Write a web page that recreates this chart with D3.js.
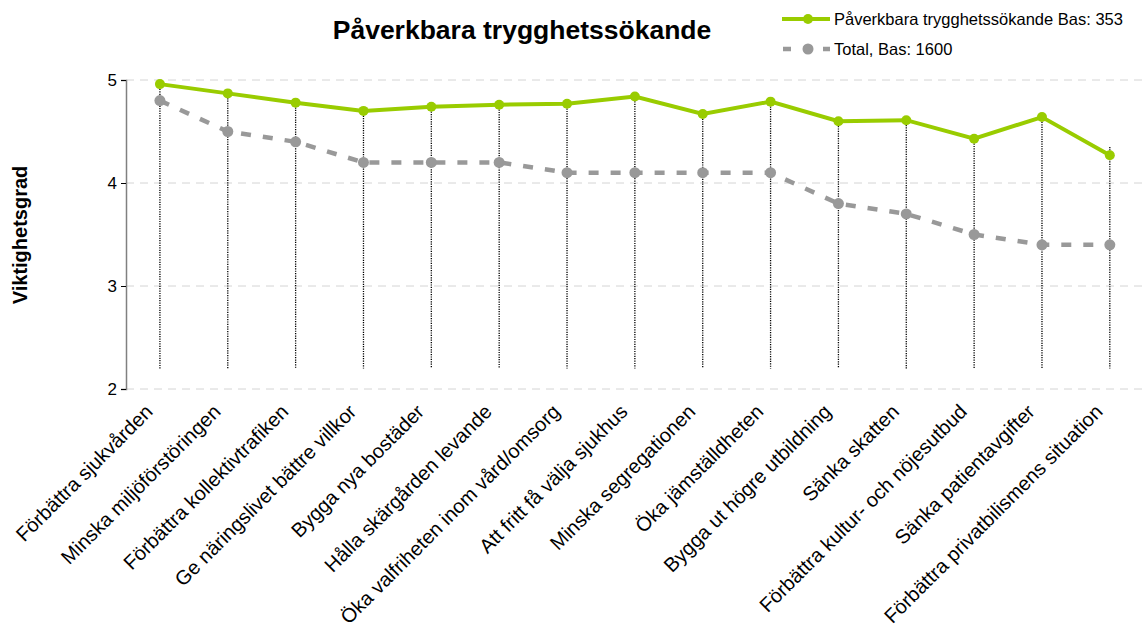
<!DOCTYPE html>
<html>
<head>
<meta charset="utf-8">
<script src="https://cdn.jsdelivr.net/npm/d3@7"></script>
<style>
  body { margin: 0; background: #fff; }
  svg { font-family: "Liberation Sans", Arial, sans-serif; }
</style>
</head>
<body>
<div id="chart"></div>
<script>
const categories = [
  "Förbättra sjukvården",
  "Minska miljöförstöringen",
  "Förbättra kollektivtrafiken",
  "Ge näringslivet bättre villkor",
  "Bygga nya bostäder",
  "Hålla skärgården levande",
  "Öka valfriheten inom vård/omsorg",
  "Att fritt få välja sjukhus",
  "Minska segregationen",
  "Öka jämställdheten",
  "Bygga ut högre utbildning",
  "Sänka skatten",
  "Förbättra kultur- och nöjesutbud",
  "Sänka patientavgifter",
  "Förbättra privatbilismens situation"
];
const groupValues = [4.96, 4.87, 4.78, 4.70, 4.74, 4.76, 4.77, 4.84, 4.67, 4.79, 4.60, 4.61, 4.43, 4.64, 4.27];
const totalValues = [4.8, 4.5, 4.4, 4.2, 4.2, 4.2, 4.1, 4.1, 4.1, 4.1, 3.8, 3.7, 3.5, 3.4, 3.4];
const yTicks = [2, 3, 4, 5];
const seriesNames = ["Påverkbara trygghetssökande Bas: 353", "Total, Bas: 1600"];
const title = "Påverkbara trygghetssökande";
const yLabel = "Viktighetsgrad";

const width = 1142, height = 637;
const margin = {top: 80, right: 0, bottom: 248, left: 126};

const svg = d3.select("#chart").append("svg")
  .attr("width", width)
  .attr("height", height);

const x = d3.scaleBand()
  .domain(categories)
  .range([margin.left, margin.left + 15 * 67.85]);

const y = d3.scaleLinear()
  .domain([2, 5])
  .range([height - margin.bottom, margin.top]);

const cx = d => x(d) + x.bandwidth() / 2;

// gridlines
svg.append("g")
  .selectAll("line")
  .data(yTicks)
  .join("line")
    .attr("x1", margin.left)
    .attr("x2", width)
    .attr("y1", d => y(d))
    .attr("y2", d => y(d))
    .attr("stroke", "#d4d4d4")
    .attr("stroke-width", 1)
    .attr("stroke-dasharray", "8,6");

// y axis
const yAxis = svg.append("g")
  .attr("transform", `translate(${margin.left},0)`)
  .call(d3.axisLeft(y).tickValues(yTicks).tickSize(5).tickFormat(d3.format("d")));
yAxis.select(".domain").attr("stroke", "#808080").attr("stroke-width", 1.5);
yAxis.selectAll(".tick line").attr("stroke", "#000");
yAxis.selectAll(".tick text")
  .attr("font-size", 17)
  .attr("font-family", "Liberation Sans, Arial, sans-serif")
  .attr("fill", "#000")
  .attr("x", -9);

// drop lines
svg.append("g")
  .selectAll("line")
  .data(categories)
  .join("line")
    .attr("x1", d => cx(d))
    .attr("x2", d => cx(d))
    .attr("y1", (d, i) => y(Math.max(groupValues[i], 4.35)))
    .attr("y2", y(2.2))
    .attr("stroke", "#000")
    .attr("stroke-width", 1.3)
    .attr("stroke-dasharray", "1.2,1.2");

// total series (dashed gray)
const line = d3.line().x((d, i) => cx(categories[i])).y(d => y(d));

svg.append("path")
  .datum(totalValues)
  .attr("d", line)
  .attr("fill", "none")
  .attr("stroke", "#999999")
  .attr("stroke-width", 4.5)
  .attr("stroke-dasharray", "10,12");

svg.append("g")
  .selectAll("circle")
  .data(totalValues)
  .join("circle")
    .attr("cx", (d, i) => cx(categories[i]))
    .attr("cy", d => y(d))
    .attr("r", 5.5)
    .attr("fill", "#999999");

// group series (solid green)
svg.append("path")
  .datum(groupValues)
  .attr("d", line)
  .attr("fill", "none")
  .attr("stroke", "#99cc00")
  .attr("stroke-width", 4);

svg.append("g")
  .selectAll("circle")
  .data(groupValues)
  .join("circle")
    .attr("cx", (d, i) => cx(categories[i]))
    .attr("cy", d => y(d))
    .attr("r", 5)
    .attr("fill", "#99cc00");

// x labels
svg.append("g")
  .selectAll("text")
  .data(categories)
  .join("text")
    .attr("transform", d => `translate(${cx(d) - 6},${y(2) + 24}) rotate(-45)`)
    .attr("text-anchor", "end")
    .attr("font-size", 20)
    .attr("fill", "#000")
    .text(d => d);

// title
svg.append("text")
  .attr("x", 522)
  .attr("y", 39)
  .attr("text-anchor", "middle")
  .attr("font-size", 26.5)
  .attr("font-weight", "bold")
  .text(title);

// y label
svg.append("text")
  .attr("transform", `translate(27,235) rotate(-90)`)
  .attr("text-anchor", "middle")
  .attr("font-size", 20)
  .attr("font-weight", "bold")
  .text(yLabel);

// legend
const legend = svg.append("g");
legend.append("line")
  .attr("x1", 782).attr("x2", 830).attr("y1", 19).attr("y2", 19)
  .attr("stroke", "#99cc00").attr("stroke-width", 4);
legend.append("circle").attr("cx", 808).attr("cy", 19).attr("r", 5).attr("fill", "#99cc00");
legend.append("text").attr("x", 834).attr("y", 25).attr("font-size", 16.5).text(seriesNames[0]);

legend.append("line")
  .attr("x1", 783).attr("x2", 830).attr("y1", 49).attr("y2", 49)
  .attr("stroke", "#999999").attr("stroke-width", 4.5)
  .attr("stroke-dasharray", "8,12");
legend.append("circle").attr("cx", 808).attr("cy", 49).attr("r", 5.5).attr("fill", "#999999");
legend.append("text").attr("x", 834).attr("y", 55).attr("font-size", 16.5).text(seriesNames[1]);
</script>
</body>
</html>
